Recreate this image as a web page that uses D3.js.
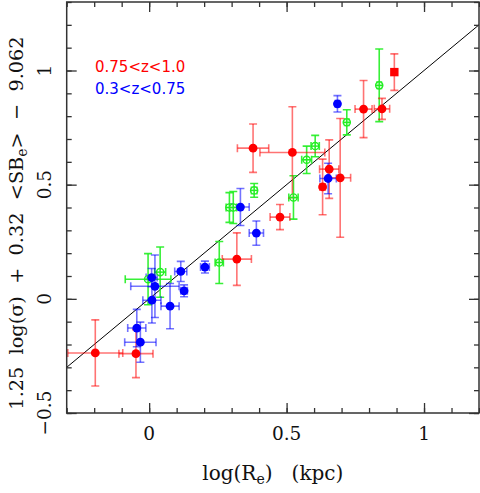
<!DOCTYPE html>
<html>
<head>
<meta charset="utf-8">
<script src="https://cdn.jsdelivr.net/npm/d3@7"></script>
<style>
body{margin:0;background:#fff;}
text{font-family:"DejaVu Serif",serif;}
</style>
</head>
<body>
<svg id="chart" width="480" height="493"></svg>
<script>
// red: 0.75<z<1.0  [logRe, y, xerr, yerr]
var redX    = [-0.196,-0.048,0.319,0.476,0.378,0.521,0.631,0.655,0.695,0.780,0.847];
var redY    = [-0.237,-0.240,0.174,0.358,0.660,0.641,0.490,0.568,0.530,0.831,0.832];
var redXerr = [0.100,0.062,0.053,0.036,0.057,0.118,0.010,0.035,0.038,0.031,0.028];
var redYerr = [0.145,0.105,0.115,0.055,0.106,0.200,0.122,0.128,0.260,0.125,0.046];
// red square
var sqX = [0.892], sqY = [0.993], sqXerr = [0.005], sqYerr = [0.080];
// blue: 0.3<z<0.75
var blueX    = [-0.045,-0.032,0.010,0.021,0.009,0.076,0.115,0.127,0.203,0.332,0.390,0.651,0.685];
var blueY    = [-0.128,-0.190,-0.006,0.055,0.093,-0.032,0.120,0.035,0.139,0.402,0.288,0.527,0.854];
var blueXerr = [0.033,0.057,0.033,0.088,0.020,0.033,0.022,0.012,0.016,0.032,0.026,0.030,0.008];
var blueYerr = [0.082,0.088,0.100,0.137,0.040,0.099,0.044,0.026,0.026,0.081,0.053,0.067,0.036];
// green open circles
var greenX    = [-0.004,0.040,0.292,0.306,0.382,0.255,0.525,0.573,0.604,0.719,0.837];
var greenY    = [0.086,0.117,0.400,0.400,0.475,0.159,0.444,0.609,0.669,0.773,0.935];
var greenXerr = [0.083,0.020,0.012,0.012,0.010,0.015,0.017,0.018,0.015,0.008,0.008];
var greenYerr = [0.112,0.110,0.065,0.070,0.030,0.092,0.095,0.060,0.047,0.055,0.159];

var xTicks = [0,0.5,1];
var yTicks = [-0.5,0,0.5,1];

var svg = d3.select("#chart");
var pLeft=66.7, pRight=479, pTop=2, pBottom=413;
var x = d3.scaleLinear().domain([-0.3,1.2]).range([pLeft,pRight]);
var y = d3.scaleLinear().domain([-0.5,1.3]).range([pBottom,pTop]);

svg.append("clipPath").attr("id","clip").append("rect")
  .attr("x",pLeft).attr("y",pTop).attr("width",pRight-pLeft).attr("height",pBottom-pTop);
var plot = svg.append("g").attr("clip-path","url(#clip)");

// fit line y = x
plot.append("line").attr("x1",x(-0.3)).attr("y1",y(-0.3)).attr("x2",x(1.2)).attr("y2",y(1.2))
  .attr("stroke","#000").attr("stroke-width",1);

function errorBars(xs,ys,xe,ye,color,op) {
  var g = plot.append("g").attr("stroke",color).attr("stroke-opacity",op).attr("stroke-width",1.6).attr("fill","none");
  var cap=4;
  xs.forEach(function(d,i){
    var cx=x(d), cy=y(ys[i]);
    var x0=x(d-xe[i]), x1=x(d+xe[i]), y0=y(ys[i]-ye[i]), y1=y(ys[i]+ye[i]);
    g.append("line").attr("x1",x0).attr("x2",x1).attr("y1",cy).attr("y2",cy);
    g.append("line").attr("x1",x0).attr("x2",x0).attr("y1",cy-cap).attr("y2",cy+cap);
    g.append("line").attr("x1",x1).attr("x2",x1).attr("y1",cy-cap).attr("y2",cy+cap);
    g.append("line").attr("x1",cx).attr("x2",cx).attr("y1",y0).attr("y2",y1);
    g.append("line").attr("x1",cx-cap).attr("x2",cx+cap).attr("y1",y0).attr("y2",y0);
    g.append("line").attr("x1",cx-cap).attr("x2",cx+cap).attr("y1",y1).attr("y2",y1);
  });
}

errorBars(greenX,greenY,greenXerr,greenYerr,"#22ee22",0.9);
errorBars(redX,redY,redXerr,redYerr,"#ff0000",0.55);
errorBars(sqX,sqY,sqXerr,sqYerr,"#ff0000",0.55);
errorBars(blueX,blueY,blueXerr,blueYerr,"#0000ff",0.55);

// green open circles with cross
var gg = plot.append("g").attr("stroke","#22ee22").attr("stroke-width",1.4).attr("fill","#fff").attr("fill-opacity",0.6);
greenX.forEach(function(d,i){
  var cx=x(d), cy=y(greenY[i]), r=3.6;
  gg.append("circle").attr("cx",cx).attr("cy",cy).attr("r",r);
  gg.append("line").attr("x1",cx-r).attr("x2",cx+r).attr("y1",cy).attr("y2",cy);
  gg.append("line").attr("x1",cx).attr("x2",cx).attr("y1",cy-r).attr("y2",cy+r);
});

plot.selectAll("circle.red").data(redX).enter().append("circle").attr("class","red")
  .attr("cx",function(d){return x(d);}).attr("cy",function(d,i){return y(redY[i]);})
  .attr("r",4.4).attr("fill","#ff0000");
plot.selectAll("rect.sq").data(sqX).enter().append("rect").attr("class","sq")
  .attr("x",function(d){return x(d)-4.2;}).attr("y",function(d,i){return y(sqY[i])-4.2;})
  .attr("width",8.4).attr("height",8.4).attr("fill","#ff0000");
plot.selectAll("circle.blue").data(blueX).enter().append("circle").attr("class","blue")
  .attr("cx",function(d){return x(d);}).attr("cy",function(d,i){return y(blueY[i]);})
  .attr("r",4.4).attr("fill","#0000ff");

// axes box with inward ticks
var axisCol="#333";
function minorTicks(scale,step){
  var d=scale.domain(), out=[];
  for(var v=Math.ceil(d[0]/step-1e-9);v*step<=d[1]+1e-9;v++) out.push(+(v*step).toFixed(3));
  return out;
}
var xMinor=minorTicks(x,0.1), yMinor=minorTicks(y,0.1);
function drawAxis(axisFn,scale,ticks,size,tr){
  var g=svg.append("g").attr("transform",tr)
    .call(axisFn(scale).tickValues(ticks).tickSize(-size).tickFormat(""));
  g.selectAll("line").attr("stroke",axisCol).attr("stroke-width",1.3);
  g.select(".domain").remove();
}
[[d3.axisBottom,"translate(0,"+pBottom+")"],[d3.axisTop,"translate(0,"+pTop+")"]].forEach(function(a){
  drawAxis(a[0],x,xMinor,5,a[1]);
  drawAxis(a[0],x,xTicks,10,a[1]);
});
[[d3.axisLeft,"translate("+pLeft+",0)"],[d3.axisRight,"translate("+pRight+",0)"]].forEach(function(a){
  drawAxis(a[0],y,yMinor,5,a[1]);
  drawAxis(a[0],y,yTicks,10,a[1]);
});
svg.append("rect").attr("x",pLeft).attr("y",pTop).attr("width",pRight-pLeft).attr("height",pBottom-pTop)
  .attr("fill","none").attr("stroke",axisCol).attr("stroke-width",1.5);

// tick labels
svg.selectAll("text.xt").data(xTicks).enter().append("text").attr("class","xt")
  .attr("x",function(d){return x(d);}).attr("y",440).attr("text-anchor","middle")
  .attr("font-size",18.5).attr("fill","#111")
  .text(function(d){return d3.format("")(d).replace("-","\u2212");});
svg.selectAll("text.yt").data(yTicks).enter().append("text").attr("class","yt")
  .attr("transform",function(d){return "translate(51,"+y(d)+") rotate(-90)";})
  .attr("text-anchor","middle").attr("font-size",18.5).attr("fill","#111")
  .text(function(d){return d3.format("")(d).replace("-","\u2212");});

// axis titles
var xl = svg.append("text").attr("x",(pLeft+pRight)/2).attr("y",480).attr("text-anchor","middle")
  .attr("font-size",20).attr("fill","#111").attr("xml:space","preserve");
xl.append("tspan").text("log(R");
xl.append("tspan").attr("font-size",14).attr("dy",4).text("e");
xl.append("tspan").attr("dy",-4).text(")   (kpc)");

var yl = svg.append("text").attr("transform","translate(23,223) rotate(-90)").attr("text-anchor","middle")
  .attr("font-size",19.3).attr("fill","#111").attr("xml:space","preserve");
yl.append("tspan").text("1.25  log(\u03c3)  +  0.32  <SB");
yl.append("tspan").attr("font-size",14).attr("dy",4).text("e");
yl.append("tspan").attr("dy",-4).text(">  \u2212  9.062");

// legend
svg.append("text").attr("x",95).attr("y",72).attr("font-size",15).attr("fill","#ff0000")
  .style("font-family","'DejaVu Sans',sans-serif").text("0.75<z<1.0");
svg.append("text").attr("x",95).attr("y",94).attr("font-size",15).attr("fill","#0000ff")
  .style("font-family","'DejaVu Sans',sans-serif").text("0.3<z<0.75");
</script>
</body>
</html>
